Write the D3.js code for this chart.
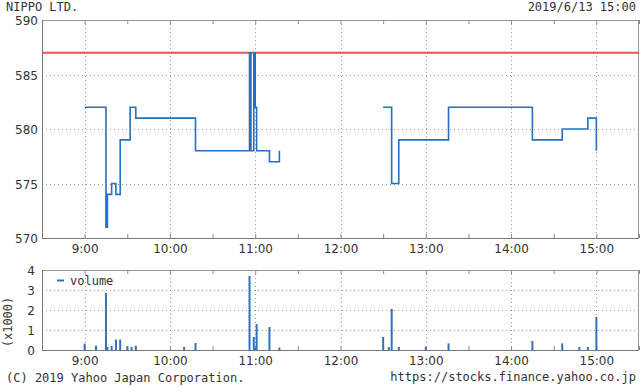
<!DOCTYPE html>
<html>
<head>
<meta charset="utf-8">
<script src="https://cdn.jsdelivr.net/npm/d3@7"></script>
<style>
  body { margin: 0; background: #fff; }
  svg text { fill: #333; }
  .mono { font-family: "DejaVu Sans Mono", "Liberation Mono", monospace; font-size: 12px; }
  .axis text { font-family: "DejaVu Sans", Verdana, sans-serif; font-size: 12px; fill: #333; }
</style>
</head>
<body>
<svg id="chart" width="640" height="387"></svg>
<script>
// price ticks (step changes), null marks the lunch break
const priceTimes  = ["9:00", "9:15", "9:16", "9:19", "9:22", "9:25", "9:32", "9:36", "10:18",
                     "10:56", "10:57", "10:59", "11:00", "11:01", "11:10", "11:17",
                     "12:00",
                     "12:30", "12:36", "12:41", "13:16", "14:15", "14:36", "14:54", "15:00"];
const priceValues = [582, 571, 574, 575, 574, 579, 582, 581, 578,
                     587, 578, 587, 582, 578, 577, 578,
                     null,
                     582, 575, 579, 582, 579, 580, 581, 578];
const prevClose = 587;

const volumeTimes  = ["9:00", "9:08", "9:15", "9:16", "9:19", "9:22", "9:25", "9:30", "9:33", "9:36",
                      "10:10", "10:18", "10:56", "10:59", "11:00", "11:01", "11:10", "11:17",
                      "12:30", "12:34", "12:36", "12:41", "13:00", "13:16",
                      "14:15", "14:36", "14:48", "14:54", "15:00"];
const volumeValues = [320, 220, 2850, 150, 200, 520, 520, 180, 150, 220,
                      150, 350, 3700, 650, 100, 1300, 1150, 120,
                      650, 150, 2050, 150, 150, 330,
                      450, 330, 150, 150, 1650];

const priceTicks = [570, 575, 580, 585, 590];
const volumeTicks = [0, 1000, 2000, 3000, 4000];

const title = "NIPPO LTD.";
const stamp = "2019/6/13 15:00";
const copyright = "(C) 2019 Yahoo Japan Corporation.";
const url = "https://stocks.finance.yahoo.co.jp";

const parse = d3.timeParse("%H:%M");
const svg = d3.select("#chart");

const left = 42, right = 639;
const main = {top: 20, bottom: 238};
const vol = {top: 270, bottom: 350};

const x = d3.scaleTime()
    .domain([parse("8:30"), parse("15:30")])
    .range([left, right]);
const yPrice = d3.scaleLinear().domain([570, 590]).range([main.bottom, main.top]);
const yVol = d3.scaleLinear().domain([0, 4000]).range([vol.bottom, vol.top]);

const hours = d3.timeHour.range(parse("9:00"), parse("15:01"));
const halfHours = d3.timeMinute.every(30).range(parse("8:30"), parse("15:31"));

function drawFrame(panel, yScale, gridVals, labelVals, labelFmt, labelX) {
    const g = svg.append("g");
    // horizontal grid
    g.selectAll("line.hg").data(gridVals).join("line")
        .attr("x1", left).attr("x2", right)
        .attr("y1", d => Math.round(yScale(d)) + 0.5)
        .attr("y2", d => Math.round(yScale(d)) + 0.5)
        .attr("stroke", "#999").attr("stroke-dasharray", "1,3");
    // vertical grid at hours
    g.selectAll("line.vg").data(hours).join("line")
        .attr("x1", d => Math.round(x(d)) + 0.5).attr("x2", d => Math.round(x(d)) + 0.5)
        .attr("y1", panel.top).attr("y2", panel.bottom)
        .attr("stroke", "#999").attr("stroke-dasharray", "1,3");
    // inner ticks every half hour, top and bottom
    g.append("g")
        .attr("transform", "translate(0," + panel.top + ")")
        .call(d3.axisBottom(x).tickValues(halfHours).tickSize(4).tickFormat(""))
        .call(a => a.select(".domain").remove())
        .selectAll("line").attr("stroke", "#888");
    g.append("g")
        .attr("transform", "translate(0," + panel.bottom + ")")
        .call(d3.axisTop(x).tickValues(halfHours).tickSize(4).tickFormat(""))
        .call(a => a.select(".domain").remove())
        .selectAll("line").attr("stroke", "#888");
    // border
    g.append("rect")
        .attr("x", left + 0.5).attr("y", panel.top + 0.5)
        .attr("width", right - left - 1).attr("height", panel.bottom - panel.top)
        .attr("fill", "none").attr("stroke", "#999");
    g.append("line")
        .attr("x1", left + 0.5).attr("x2", left + 0.5)
        .attr("y1", panel.top).attr("y2", panel.bottom + 0.5)
        .attr("stroke", "#777");
    g.append("line")
        .attr("x1", left).attr("x2", right)
        .attr("y1", panel.bottom + 0.5).attr("y2", panel.bottom + 0.5)
        .attr("stroke", "#777");
    // y labels
    g.append("g")
        .attr("class", "axis")
        .attr("transform", "translate(" + labelX + ",1)")
        .call(d3.axisLeft(yScale).tickValues(labelVals).tickSize(0).tickPadding(0).tickFormat(labelFmt))
        .call(a => a.select(".domain").remove());
    // x labels
    g.append("g")
        .attr("class", "axis")
        .attr("transform", "translate(0," + panel.bottom + ")")
        .call(d3.axisBottom(x).tickValues(hours).tickSize(0).tickPadding(6)
            .tickFormat(d3.timeFormat("%-H:%M")))
        .call(a => a.select(".domain").remove());
}

drawFrame(main, yPrice, [575, 580, 585], priceTicks, d3.format("d"), 38);
drawFrame(vol, yVol, [1000, 2000, 3000], volumeTicks, d => d / 1000, 35);

// previous close
svg.append("line")
    .attr("x1", left + 1).attr("x2", right)
    .attr("y1", yPrice(prevClose)).attr("y2", yPrice(prevClose))
    .attr("stroke", "#e0564f").attr("stroke-width", 2);

// price step line
const priceData = priceTimes.map((t, i) => ({t: parse(t), v: priceValues[i]}));
const line = d3.line()
    .defined(d => d.v !== null)
    .x(d => x(d.t))
    .y(d => yPrice(d.v))
    .curve(d3.curveStepAfter);
svg.append("path")
    .attr("d", line(priceData))
    .attr("fill", "none")
    .attr("stroke", "#2470c2")
    .attr("stroke-width", 1.6);

// volume bars
const volData = volumeTimes.map((t, i) => ({t: parse(t), v: volumeValues[i]}));
svg.append("g").selectAll("line").data(volData).join("line")
    .attr("x1", d => x(d.t)).attr("x2", d => x(d.t))
    .attr("y1", yVol(0)).attr("y2", d => yVol(d.v))
    .attr("stroke", "#2f72c0").attr("stroke-width", 2);

// legend
svg.append("line")
    .attr("x1", 57).attr("x2", 64).attr("y1", 280.5).attr("y2", 280.5)
    .attr("stroke", "#2f72c0").attr("stroke-width", 2);
svg.append("text").attr("class", "mono")
    .attr("x", 70).attr("y", 285).text("volume");

// unit label
svg.append("text").attr("class", "axis")
    .attr("transform", "translate(12,322) rotate(-90)")
    .attr("text-anchor", "middle")
    .style("font-family", "'DejaVu Sans Mono', monospace")
    .style("font-size", "12px")
    .text("(x1000)");

// header and footer
svg.append("text").attr("class", "mono").attr("x", 6).attr("y", 11).text(title);
svg.append("text").attr("class", "mono").attr("x", 636).attr("y", 11)
    .attr("text-anchor", "end").text(stamp);
svg.append("text").attr("class", "mono").attr("x", 6).attr("y", 382).text(copyright);
svg.append("text").attr("class", "mono").attr("x", 636).attr("y", 381)
    .attr("text-anchor", "end").text(url);
</script>
</body>
</html>
